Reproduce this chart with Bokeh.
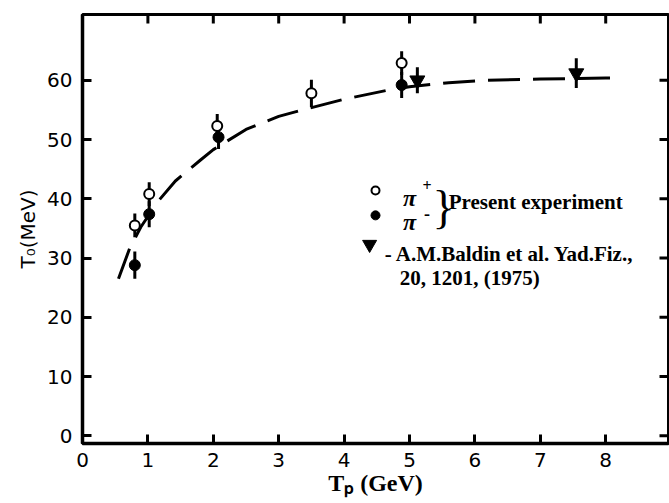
from bokeh.plotting import figure
from bokeh.models import Range1d, FixedTicker, Label, ColumnDataSource
from bokeh.embed import file_html
from bokeh.resources import INLINE

# ---- data ----
X_TICKS = [0, 1, 2, 3, 4, 5, 6, 7, 8]
Y_TICKS = [0, 10, 20, 30, 40, 50, 60]

pip_x = [0.80, 1.02, 2.06, 3.50, 4.88]          # pi+  (open circles)
pip_y = [35.5, 40.8, 52.3, 57.8, 62.9]
pip_err = [2.0, 2.0, 2.0, 2.3, 2.0]

pim_x = [0.80, 1.02, 2.08, 4.88]                # pi-  (filled circles)
pim_y = [28.8, 37.4, 50.4, 59.2]
pim_err = [2.3, 2.2, 2.0, 2.2]

bal_x = [5.12, 7.55]                            # Baldin et al. (triangles)
bal_y = [60.0, 61.2]
bal_err = [2.2, 2.5]

curve_x = [0.55, 0.72, 0.89, 1.15, 1.42, 1.80, 2.00, 2.50, 3.00, 3.30, 4.00,
           4.70, 5.00, 5.60, 6.20, 7.00, 7.50, 8.00, 8.20]
curve_y = [26.5, 31.6, 35.2, 39.5, 43.0, 46.5, 48.3, 51.7, 53.9, 54.8, 56.8,
           58.4, 58.9, 59.6, 60.0, 60.2, 60.3, 60.4, 60.4]

X_RANGE = (0, 8.96)
Y_RANGE = (-1.3, 71.1)

p = figure(width=669, height=503, x_range=Range1d(*X_RANGE), y_range=Range1d(*Y_RANGE),
           output_backend="svg", toolbar_location=None,
           min_border_left=82, min_border_right=1, min_border_top=14, min_border_bottom=60)
p.grid.visible = False
p.outline_line_color = "black"
p.outline_line_width = 3
p.background_fill_color = "white"
p.border_fill_color = "white"

for ax in (p.xaxis[0], p.yaxis[0]):
    ax.axis_line_width = 3.5
    ax.axis_line_color = "black"
    ax.major_tick_in = 9
    ax.major_tick_out = 0
    ax.major_tick_line_width = 3
    ax.major_tick_line_color = "black"
    ax.minor_tick_line_color = None
    ax.major_label_text_font = "DejaVu Sans"
    ax.major_label_text_font_size = "20px"
    ax.major_label_text_color = "black"

p.xaxis.ticker = FixedTicker(ticks=X_TICKS)
p.yaxis.ticker = FixedTicker(ticks=Y_TICKS)
p.xaxis.major_label_standoff = 9
p.yaxis.major_label_standoff = 10

p.xaxis.axis_label = "T\u209a (GeV)"
p.xaxis.axis_label_text_font = "Liberation Serif"
p.xaxis.axis_label_text_font_style = "bold"
p.xaxis.axis_label_text_font_size = "24px"
p.xaxis.axis_label_text_color = "black"
p.xaxis.axis_label_standoff = 0

p.yaxis.axis_label = "T\u2080(MeV)"
p.yaxis.axis_label_text_font = "DejaVu Sans"
p.yaxis.axis_label_text_font_style = "normal"
p.yaxis.axis_label_text_font_size = "20px"
p.yaxis.axis_label_text_color = "black"
p.yaxis.axis_label_standoff = 4

# mirrored inward ticks on the top and right edges (length 9 px)
tick_dx = 9 * (X_RANGE[1] - X_RANGE[0]) / 586.0
tick_dy = 9 * (Y_RANGE[1] - Y_RANGE[0]) / 429.0
top_t = [t for t in X_TICKS if t > X_RANGE[0]]
p.segment(x0=top_t, y0=[Y_RANGE[1]] * len(top_t), x1=top_t, y1=[Y_RANGE[1] - tick_dy] * len(top_t),
          line_color="black", line_width=3)
right_t = [t for t in Y_TICKS if t > Y_RANGE[0]]
p.segment(x0=[X_RANGE[1]] * len(right_t), y0=right_t, x1=[X_RANGE[1] - tick_dx] * len(right_t), y1=right_t,
          line_color="black", line_width=3)

# dashed curve
p.line(curve_x, curve_y, line_color="black", line_width=3, line_dash="32 13")


def errbars(xs, ys, es):
    src = ColumnDataSource(dict(x=xs, lo=[y - e for y, e in zip(ys, es)],
                                hi=[y + e for y, e in zip(ys, es)]))
    p.segment(x0="x", y0="lo", x1="x", y1="hi", source=src, line_color="black", line_width=3)


errbars(pip_x, pip_y, pip_err)
errbars(pim_x, pim_y, pim_err)
errbars(bal_x, bal_y, bal_err)

p.scatter(pip_x, pip_y, marker="circle", size=10, fill_color="white", line_color="black", line_width=2)
p.scatter(pim_x, pim_y, marker="circle", size=11, fill_color="black", line_color="black")
p.scatter(bal_x, bal_y, marker="inverted_triangle", size=15, fill_color="black", line_color="black")

# legend
p.scatter([4.48], [41.4], marker="circle", size=8, fill_color="white", line_color="black", line_width=2)
p.scatter([4.48], [37.2], marker="circle", size=9, fill_color="black", line_color="black")
p.scatter([4.39], [32.3], marker="inverted_triangle", size=14, fill_color="black", line_color="black")

serif = "Liberation Serif"


def lab(x, y, text, size, style="normal", font=serif, align="left", baseline="alphabetic"):
    p.add_layout(Label(x=x, y=y, text=text, text_font=font, text_font_size=size,
                       text_font_style=style, text_color="black", text_align=align,
                       text_baseline=baseline))


lab(4.90, 40.2, "π", "24px", "bold italic")
lab(5.20, 42.2, "+", "16px", "bold")
lab(4.90, 36.0, "π", "24px", "bold italic")
lab(5.22, 37.6, "-", "18px", "bold")
lab(5.52, 38.6, "}", "46px", "normal", align="center", baseline="middle")
lab(5.60, 39.5, "Present experiment", "21px", "bold")
lab(4.62, 30.6, "- A.M.Baldin et al. Yad.Fiz.,", "21px", "bold")
lab(4.85, 26.6, "20, 1201, (1975)", "21px", "bold")

open("out.html", "w").write(file_html(p, INLINE))
